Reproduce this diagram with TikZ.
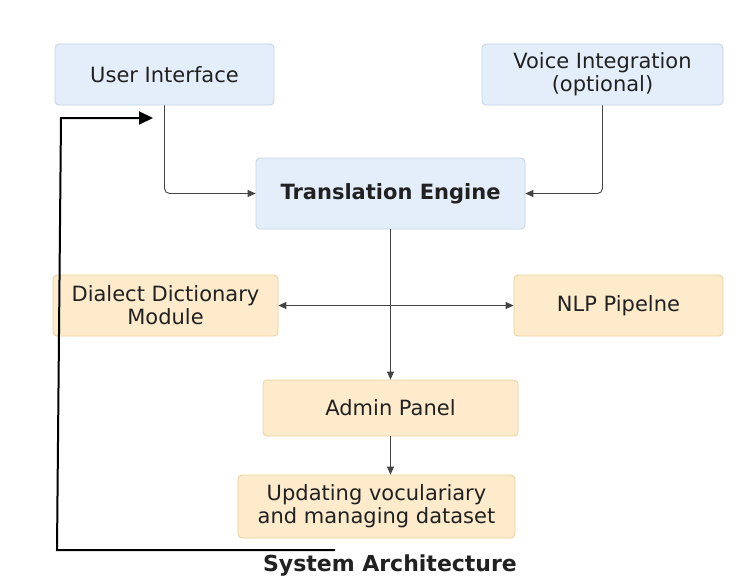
\documentclass[tikz,border=0pt]{standalone}
\usepackage{fontspec}
\setmainfont{DejaVu Sans}
\usetikzlibrary{arrows.meta}
\definecolor{bluefill}{HTML}{E4EEFA}
\definecolor{blueline}{HTML}{C5D3E4}
\definecolor{orfill}{HTML}{FDEBCB}
\definecolor{orline}{HTML}{EACF9C}
\definecolor{conn}{HTML}{444444}
\tikzset{
  box/.style={draw, rounded corners=4pt, line width=0.8pt, align=center, font=\fontsize{21}{23}\selectfont, text=black!87, inner sep=0pt},
  bbox/.style={box, fill=bluefill, draw=blueline},
  obox/.style={box, fill=orfill, draw=orline},
  tip/.tip={Triangle[width=7pt,length=8pt]},
  link/.style={draw=conn, line width=0.9pt, rounded corners=5pt, -tip},
  fb/.style={draw=black, line width=2pt, -{Triangle[width=13pt,length=14pt]}}
}
\begin{document}
\begin{tikzpicture}[x=1pt,y=-1pt]
\useasboundingbox (0,0) rectangle (741,578);
\fill[white] (0,0) rectangle (741,578);
\node[bbox, minimum width=219pt, minimum height=61pt] (ui) at (164.5,74.5) {User Interface};
\node[bbox, minimum width=241pt, minimum height=61pt] (voice) at (602.5,74.5) {Voice Integration\\(optional)};
\node[bbox, minimum width=269pt, minimum height=71pt, font=\fontsize{21}{23}\selectfont\bfseries] (te) at (390.5,193.5) {Translation Engine};
\node[obox, minimum width=225pt, minimum height=61pt] (dict) at (165.5,305.5) {Dialect Dictionary\\Module};
\node[obox, minimum width=209pt, minimum height=61pt] (nlp) at (618.5,305.5) {NLP Pipelne};
\node[obox, minimum width=255pt, minimum height=56pt] (admin) at (390.5,408) {Admin Panel};
\node[obox, minimum width=277pt, minimum height=63pt] (upd) at (376.5,506.5) {Updating voculariary\\and managing dataset};
\node[font=\fontsize{22}{26}\selectfont\bfseries, text=black!87] (title) at (390,566) {System Architecture};
% connectors
\draw[link] (ui.south) -- (ui.south |- te.west) -- (te.west);
\draw[link] (voice.south) -- (voice.south |- te.east) -- (te.east);
\draw[link] (te.south) -- (admin.north);
\draw[link, tip-tip] (dict.east) -- (nlp.west);
\draw[link] (admin.south) -- (admin.south |- upd.north);
% feedback line
\coordinate (fbstart) at (335,550);
\coordinate (fbc1) at (57,550);
\coordinate (fbc2) at (61,118);
\coordinate (fbend) at (153,118);
\draw[fb] (fbstart) -- (fbc1) -- (fbc2) -- (fbend);
\end{tikzpicture}
\end{document}
